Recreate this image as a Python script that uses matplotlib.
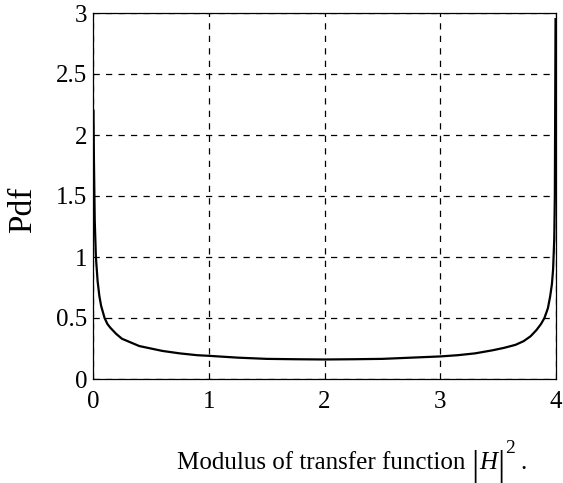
import matplotlib
matplotlib.use("Agg")
import matplotlib.pyplot as plt

# Data
x_vals = [0.004, 0.008, 0.015, 0.025, 0.04, 0.055, 0.07, 0.085, 0.1, 0.125, 0.15, 0.2,
          0.25, 0.3, 0.4, 0.5, 0.6, 0.75, 0.9, 1.0, 1.25, 1.5, 1.75, 2.0, 2.25, 2.5,
          2.75, 3.0, 3.15, 3.3, 3.45, 3.55, 3.65, 3.72, 3.78, 3.83, 3.87, 3.9, 3.93,
          3.95, 3.965, 3.975, 3.985, 3.99, 3.996]
pdf_vals = [2.2, 1.8, 1.3, 1.0, 0.8, 0.68, 0.6, 0.55, 0.5, 0.45, 0.42, 0.37,
            0.33, 0.31, 0.27, 0.25, 0.23, 0.21, 0.195, 0.19, 0.175, 0.165, 0.162, 0.16,
            0.162, 0.165, 0.175, 0.185, 0.195, 0.21, 0.235, 0.255, 0.28, 0.31, 0.35,
            0.4, 0.45, 0.5, 0.58, 0.68, 0.78, 0.9, 1.15, 1.5, 2.95]
x_ticks = [0, 1, 2, 3, 4]
y_ticks = [0, 0.5, 1, 1.5, 2, 2.5, 3]
y_tick_labels = ["0", "0.5", "1", "1.5", "2", "2.5", "3"]

plt.rcParams['font.family'] = ['Liberation Serif', 'DejaVu Serif']

W, H = 563, 483
fig = plt.figure(figsize=(W / 100, H / 100), dpi=100)
ax = fig.add_axes([93/W, 1-379/H, (556-93)/W, (379-13)/H])

ax.plot(x_vals, pdf_vals, color='black', lw=1.6)
ax.set_xlim(0, 4)
ax.set_ylim(0, 3)
ax.set_xticks(x_ticks)
ax.set_xticklabels([str(t) for t in x_ticks])
ax.set_yticks(y_ticks)
ax.set_yticklabels(y_tick_labels)
ax.tick_params(length=0, labelsize=18)
ax.tick_params(axis='x', pad=9)
ax.tick_params(axis='y', pad=4)
ax.grid(True, color='black', linestyle=(0, (5, 5)), lw=0.9)
for s in ax.spines.values():
    s.set_linewidth(0.9)

fig.text(23/W, 1-210/H, "Pdf", rotation=90, fontsize=24, ha='center', va='center')

# x-axis label composed of pieces
renderer = fig.canvas.get_renderer()
base = 469
t1 = fig.text(177/W, 1-base/H, "Modulus of transfer function", fontsize=18,
              ha='left', va='baseline')
x = t1.get_window_extent(renderer).x1 + 6
b1 = fig.text(x/W, 1-(base+6)/H, "|", fontsize=26, ha='left', va='baseline')
x = b1.get_window_extent(renderer).x1 + 0.5
th = fig.text(x/W, 1-base/H, "H", fontsize=18, style='italic', ha='left', va='baseline')
x = th.get_window_extent(renderer).x1 + 0.5
b2 = fig.text(x/W, 1-(base+6)/H, "|", fontsize=26, ha='left', va='baseline')
x = b2.get_window_extent(renderer).x1 + 0.5
t2 = fig.text(x/W, 1-(base-16)/H, "2", fontsize=14, ha='left', va='baseline')
x = t2.get_window_extent(renderer).x1 + 5
fig.text(x/W, 1-base/H, ".", fontsize=18, ha='left', va='baseline')

fig.savefig("out.png", dpi=100)
